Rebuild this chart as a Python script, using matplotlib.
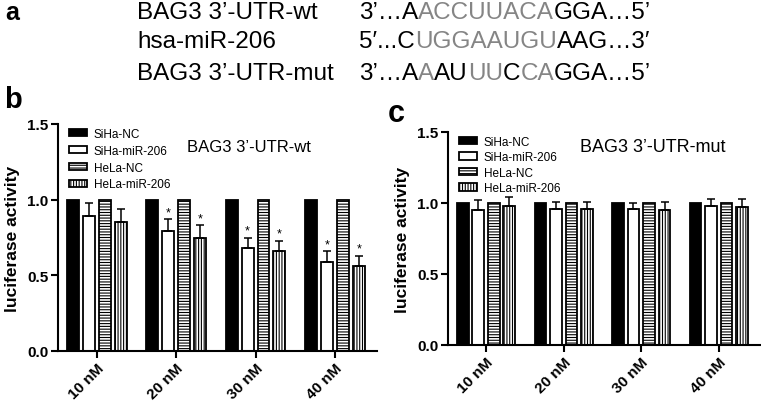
import numpy as np
import matplotlib
matplotlib.use("Agg")
import matplotlib.pyplot as plt

plt.rcParams['font.family'] = ['Liberation Sans', 'DejaVu Sans']
plt.rcParams['hatch.linewidth'] = 0.8

# data
doses = ["10 nM", "20 nM", "30 nM", "40 nM"]
groups = ["SiHa-NC", "SiHa-miR-206", "HeLa-NC", "HeLa-miR-206"]

wt_siha_nc = [1.0, 1.0, 1.0, 1.0]
wt_siha_mir = [0.89, 0.79, 0.68, 0.59]
wt_siha_mir_err = [0.09, 0.08, 0.07, 0.07]
wt_hela_nc = [1.0, 1.0, 1.0, 1.0]
wt_hela_mir = [0.85, 0.75, 0.66, 0.56]
wt_hela_mir_err = [0.09, 0.08, 0.07, 0.07]
wt_stars = [False, True, True, True]

mut_siha_nc = [1.0, 1.0, 1.0, 1.0]
mut_siha_mir = [0.95, 0.96, 0.96, 0.98]
mut_siha_mir_err = [0.07, 0.05, 0.04, 0.05]
mut_hela_nc = [1.0, 1.0, 1.0, 1.0]
mut_hela_mir = [0.98, 0.96, 0.95, 0.97]
mut_hela_mir_err = [0.06, 0.05, 0.06, 0.06]

seq_labels = ["BAG3 3’-UTR-wt", "hsa-miR-206", "BAG3 3’-UTR-mut"]
seq_parts = [
    [("3’…A", "k"), ("ACCUUACA", "#858585"), ("GGA…5’", "k")],
    [("5′...C", "k"), ("UGGAAUGU", "#858585"), ("AAG…3′", "k")],
    [("3’…A", "k"), ("A", "#858585"), ("AU", "k"), ("UU", "#858585"),
     ("C", "k"), ("CA", "#858585"), ("GGA…5’", "k")],
]

fig = plt.figure(figsize=(7.61, 4.10), dpi=100)
W, H = 761, 410


def fx(px):
    return px / W


def fy(py):
    return 1 - py / H


# panel a: sequences
fig.text(fx(5), fy(20), "a", fontsize=18, fontweight="bold", va="baseline")
seq_y = [19, 48, 80]
renderer = fig.canvas.get_renderer()
for lab, parts, sy in zip(seq_labels, seq_parts, seq_y):
    fig.text(fx(137), fy(sy), lab, fontsize=17.5, va="baseline")
    x = fx(359)
    for s, c in parts:
        t = fig.text(x, fy(sy), s, fontsize=17.5, va="baseline", color=c)
        bb = t.get_window_extent(renderer)
        x = bb.x1 / fig.bbox.width


def draw_panel(ax, nc1, mir1, err1, nc2, mir2, err2, title, stars, legspace,
               title_xy, title_size):
    x = np.arange(len(doses))
    w = 0.15
    offs = [-0.3, -0.1, 0.1, 0.3]
    kw = dict(width=w, edgecolor="black", linewidth=1.3)
    b1 = ax.bar(x + offs[0], nc1, color="black", label=groups[0], **kw)
    b2 = ax.bar(x + offs[1], mir1, color="white", label=groups[1], **kw)
    b3 = ax.bar(x + offs[2], nc2, color="white", hatch="------", label=groups[2], **kw)
    b4 = ax.bar(x + offs[3], mir2, color="white", hatch="||||||", label=groups[3], **kw)
    ekw = dict(fmt="none", ecolor="black", elinewidth=1.1, capsize=3, capthick=1.1)
    ax.errorbar(x + offs[1], mir1, yerr=[np.zeros(4), err1], **ekw)
    ax.errorbar(x + offs[3], mir2, yerr=[np.zeros(4), err2], **ekw)
    if stars is not None:
        for i, s in enumerate(stars):
            if s:
                ax.text(x[i] + offs[1], mir1[i] + err1[i] + 0.005, "*", ha="center",
                        va="bottom", fontsize=9)
                ax.text(x[i] + offs[3], mir2[i] + err2[i] + 0.005, "*", ha="center",
                        va="bottom", fontsize=9)
    ax.set_ylim(0, 1.5)
    ax.set_yticks([0.0, 0.5, 1.0, 1.5])
    ax.set_yticklabels(["0.0", "0.5", "1.0", "1.5"], fontweight="bold", fontsize=11)
    ax.set_xticks(x)
    ax.set_xticklabels(doses, rotation=45, ha="right", rotation_mode="anchor",
                       fontweight="bold", fontsize=11)
    ax.set_xlim(-0.49, 3.53)
    ax.set_ylabel("luciferase activity", fontweight="bold", fontsize=12.5, labelpad=5)
    for sp in ["top", "right"]:
        ax.spines[sp].set_visible(False)
    for sp in ["left", "bottom"]:
        ax.spines[sp].set_linewidth(1.5)
    ax.tick_params(width=1.5, length=5, direction="out", pad=2)
    ax.legend(handles=[b1, b2, b3, b4], loc="upper left", bbox_to_anchor=(0.02, 1.005),
              frameon=False, fontsize=8.5, handlelength=1.5, handleheight=0.6,
              labelspacing=legspace, handletextpad=0.6, borderaxespad=0)
    ax.text(title_xy[0], title_xy[1], title, transform=ax.transAxes, fontsize=title_size,
            va="center")


ax_b = fig.add_axes([fx(58), fy(352), fx(377 - 58), (352 - 125) / H])
draw_panel(ax_b, wt_siha_nc, wt_siha_mir, wt_siha_mir_err, wt_hela_nc, wt_hela_mir,
           wt_hela_mir_err, "BAG3 3’-UTR-wt", wt_stars, 0.42, (0.404, 0.899), 12)

ax_c = fig.add_axes([fx(448), fy(346), fx(760 - 448), (346 - 133) / H])
draw_panel(ax_c, mut_siha_nc, mut_siha_mir, mut_siha_mir_err, mut_hela_nc, mut_hela_mir,
           mut_hela_mir_err, "BAG3 3’-UTR-mut", None, 0.3, (0.423, 0.934), 13)

fig.text(fx(4), fy(108), "b", fontsize=21, fontweight="bold", va="baseline")
fig.text(fx(388), fy(122), "c", fontsize=22, fontweight="bold", va="baseline")

fig.savefig("out.png", dpi=100)
